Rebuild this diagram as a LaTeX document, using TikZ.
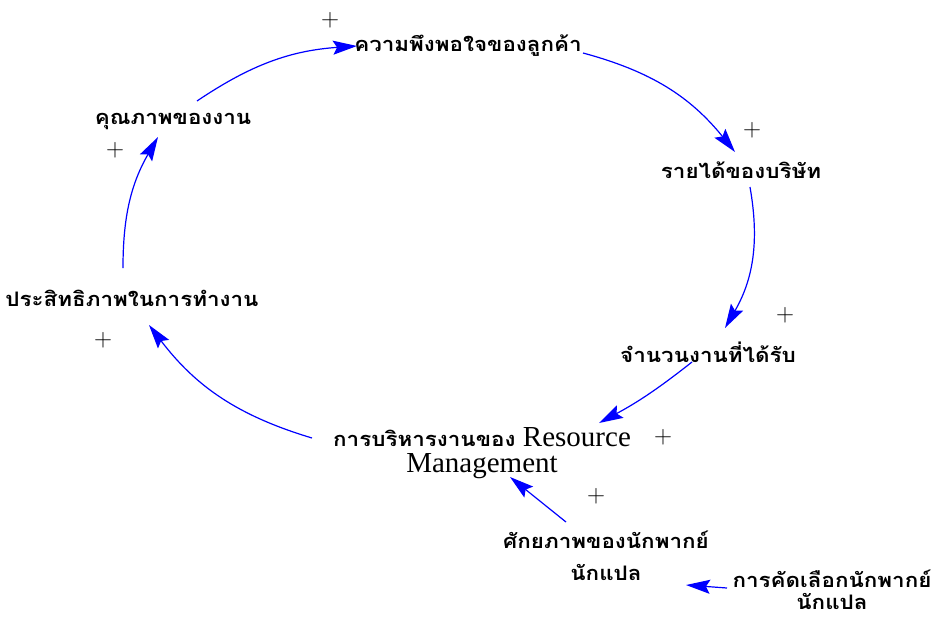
\documentclass[tikz,border=0pt]{standalone}
\usepackage{fontspec}
\newfontfamily\thai[Script=Thai,FakeStretch=1.12]{Loma}
\newfontfamily\lat{Liberation Serif}
\usetikzlibrary{arrows.meta}
\begin{document}
\begin{tikzpicture}[x=1pt,y=-1pt,
  var/.style={font=\thai\bfseries\fontsize{20}{32}\selectfont, inner sep=2pt, align=center},
  link/.style={draw=blue, line width=1.2pt,
    -{Stealth[length=24pt,width=14pt,inset=4pt]}},
  pol/.style={font=\fontsize{25}{25}\selectfont, inner sep=0pt}]
\useasboundingbox (0,0) rectangle (949,619);

% variables of the loop
\node[var] (kw) at (468,46) {ความพึงพอใจของลูกค้า};
\node[var] (ry) at (741,170) {รายได้ของบริษัท};
\node[var] (jn) at (708,352) {จำนวนงานที่ได้รับ};
\node[var, font=\thai\bfseries\fontsize{20}{26}\selectfont] (rm) at (482,453)
  {การบริหารงานของ {\lat\mdseries\fontsize{29}{26}\selectfont Resource}\\
   {\lat\mdseries\fontsize{29}{26}\selectfont Management}};
\node[var] (ps) at (132,298) {ประสิทธิภาพในการทำงาน};
\node[var] (kq) at (173,121) {คุณภาพของงาน};

% external inputs
\node[var] (sk) at (606,556) {ศักยภาพของนักพากย์\\นักแปล};
\node[var, font=\thai\bfseries\fontsize{20}{22}\selectfont] (kc) at (832,590)
  {การคัดเลือกนักพากย์\\นักแปล};
\coordinate (kcend) at (686,585);

% causal links
\draw[link] ([shift={(24,-20)}]kq.center) to[bend left=15] ([shift={(-111,0)}]kw.center);
\draw[link] ([shift={(115,7)}]kw.center) to[bend left=18] ([shift={(-6,-18)}]ry.center);
\draw[link] ([shift={(9,17)}]ry.center) to[bend left=20] ([shift={(17,-24)}]jn.center);
\draw[link] ([shift={(-16,10)}]jn.center) to[bend left=5] ([shift={(117,-30)}]rm.center);
\draw[link] ([shift={(-170,-15)}]rm.center) to[bend left=18] ([shift={(17,27)}]ps.center);
\draw[link] ([shift={(-9,-30)}]ps.center) to[bend left=15] ([shift={(-15,16)}]kq.center);
\draw[link] ([shift={(-40,-34)}]sk.center) -- ([shift={(28,24)}]rm.center);
\draw[link] ([shift={(-105,-2)}]kc.center) -- (kcend);

% link polarities
\node[pol] (p1) at (330,20) {+};
\node[pol] (p2) at (752,130) {+};
\node[pol] (p3) at (785,315) {+};
\node[pol] (p4) at (663,437) {+};
\node[pol] (p5) at (103,340) {+};
\node[pol] (p6) at (115,150) {+};
\node[pol] (p7) at (596,496) {+};
\end{tikzpicture}
\end{document}
